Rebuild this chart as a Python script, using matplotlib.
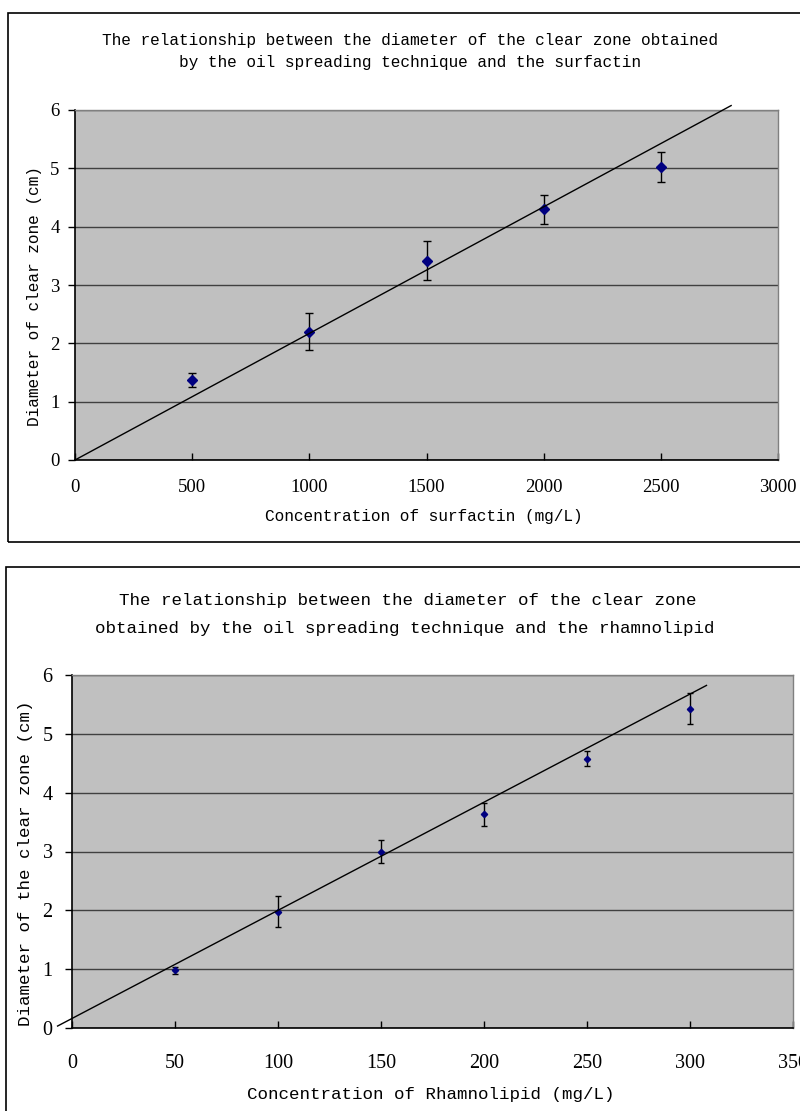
import matplotlib
matplotlib.use("Agg")
import matplotlib.pyplot as plt
from matplotlib.patches import Rectangle

# surfactin series
surf_conc = [500, 1000, 1500, 2000, 2500]
surf_diam = [1.37, 2.20, 3.42, 4.30, 5.02]
surf_err = [0.125, 0.32, 0.34, 0.25, 0.26]
surf_slope = 0.00217
surf_intercept = 0.0
surf_trend_x = [0, 2800]

# rhamnolipid series
rham_conc = [50, 100, 150, 200, 250, 300]
rham_diam = [0.98, 1.98, 3.00, 3.63, 4.58, 5.43]
rham_err = [0.06, 0.265, 0.195, 0.19, 0.13, 0.27]
rham_slope = 0.01838
rham_intercept = 0.162
rham_trend_x = [-7, 308]

surf_xticks = [0, 500, 1000, 1500, 2000, 2500, 3000]
rham_xticks = [0, 50, 100, 150, 200, 250, 300, 350]
yticks = [0, 1, 2, 3, 4, 5, 6]

W, H = 800, 1111
MONO = "Liberation Mono"
SERIF = "Liberation Serif"


def fx(px):
    return px / W


def fy(py):
    return 1 - py / H


def style_axes(ax, xmax, xticks, tick_fs, xpad, ypad):
    ax.set_facecolor("#c0c0c0")
    ax.set_xlim(0, xmax)
    ax.set_ylim(0, 6)
    ax.set_xticks(xticks)
    ax.set_yticks(yticks)
    ax.yaxis.grid(True, color="#404040", linewidth=1.0)
    ax.set_axisbelow(True)
    ax.tick_params(axis="x", direction="in", length=5, width=1, pad=xpad,
                   labelsize=tick_fs, colors="black")
    ax.tick_params(axis="y", direction="out", length=5, width=1, pad=ypad,
                   labelsize=tick_fs)
    for lab in ax.get_xticklabels() + ax.get_yticklabels():
        lab.set_family(SERIF)
    for side in ["left", "bottom"]:
        ax.spines[side].set_color("black")
        ax.spines[side].set_linewidth(1.2)
    for side in ["top", "right"]:
        ax.spines[side].set_color("#808080")
        ax.spines[side].set_linewidth(1.0)


fig = plt.figure(figsize=(W / 100, H / 100), dpi=100)

# outer frames around each chart
fig.add_artist(Rectangle((fx(8), fy(542)), fx(812 - 8), (542 - 13) / H,
                         transform=fig.transFigure, fill=False,
                         edgecolor="black", linewidth=1.2))
fig.add_artist(Rectangle((fx(6), fy(1120)), fx(812 - 6), (1120 - 567) / H,
                         transform=fig.transFigure, fill=False,
                         edgecolor="black", linewidth=1.2))

# top chart: surfactin
ax1 = fig.add_axes([fx(75), fy(460), fx(778 - 75), (460 - 110) / H])
style_axes(ax1, 3000, surf_xticks, 13.5, 14, 6)
ax1.errorbar(surf_conc, surf_diam, yerr=surf_err, fmt="D", color="#000080",
             markersize=4.8, ecolor="black", elinewidth=1, capsize=3.2,
             capthick=1, zorder=3)
ax1.plot(surf_trend_x, [surf_slope * x + surf_intercept for x in surf_trend_x],
         color="black", linewidth=1, clip_on=False, zorder=4)

fig.text(fx(410), fy(40),
         "The relationship between the diameter of the clear zone obtained",
         ha="center", va="center", family=MONO, fontsize=11.6)
fig.text(fx(410), fy(63),
         "by the oil spreading technique and the surfactin",
         ha="center", va="center", family=MONO, fontsize=11.6)
fig.text(fx(424), fy(516), "Concentration of surfactin (mg/L)",
         ha="center", va="center", family=MONO, fontsize=11.6)
fig.text(fx(35), fy(296), "Diameter of clear zone (cm)", rotation=90,
         ha="center", va="center", family=MONO, fontsize=11.6)

# bottom chart: rhamnolipid
ax2 = fig.add_axes([fx(72), fy(1028), fx(793 - 72), (1028 - 675) / H])
style_axes(ax2, 350, rham_xticks, 14.5, 19, 9)
ax2.errorbar(rham_conc, rham_diam, yerr=rham_err, fmt="D", color="#000080",
             markersize=3.2, ecolor="black", elinewidth=1, capsize=2.5,
             capthick=1, zorder=3)
ax2.plot(rham_trend_x, [rham_slope * x + rham_intercept for x in rham_trend_x],
         color="black", linewidth=1, clip_on=False, zorder=4)

fig.text(fx(408), fy(600),
         "The relationship between the diameter of the clear zone",
         ha="center", va="center", family=MONO, fontsize=12.6)
fig.text(fx(405), fy(628),
         "obtained by the oil spreading technique and the rhamnolipid",
         ha="center", va="center", family=MONO, fontsize=12.6)
fig.text(fx(431), fy(1095), "Concentration of Rhamnolipid (mg/L)",
         ha="center", va="center", family=MONO, fontsize=12.6)
fig.text(fx(26), fy(863), "Diameter of the clear zone (cm)", rotation=90,
         ha="center", va="center", family=MONO, fontsize=12.6)

fig.savefig("out.png", dpi=100)
